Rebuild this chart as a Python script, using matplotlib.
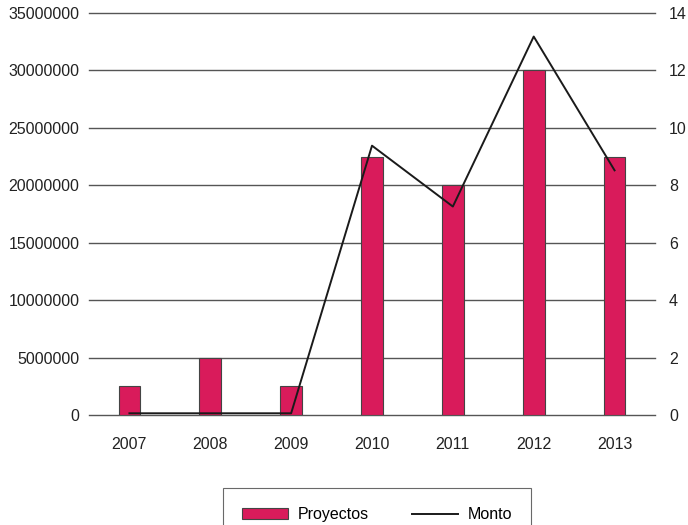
import numpy as np
import matplotlib.pyplot as plt
from matplotlib.lines import Line2D
from matplotlib.patches import Patch

plt.rcParams['font.family'] = ['Liberation Sans', 'DejaVu Sans']

# data
years = ['2007', '2008', '2009', '2010', '2011', '2012', '2013']
proyectos = [1, 2, 1, 9, 8, 12, 9]
monto = [150000, 150000, 150000, 23450000, 18150000, 32950000, 21300000]

bar_color = '#D91B5B'
grid_color = '#555555'

fig = plt.figure(figsize=(6.88, 5.25), dpi=100)
ax = fig.add_axes([89 / 688, 1 - 415 / 525, (655 - 89) / 688, (415 - 13) / 525])
ax2 = ax.twinx()

x = np.arange(len(years))

# left axis: Monto (line), right axis: Proyectos (bars)
ax.set_ylim(0, 35000000)
ax.set_yticks(np.arange(0, 35000001, 5000000))
ax.set_yticklabels([str(v) for v in range(0, 35000001, 5000000)])
ax2.set_ylim(0, 14)
ax2.set_yticks(range(0, 15, 2))
ax.set_xlim(-0.5, len(years) - 0.5)

for v in range(0, 35000001, 5000000):
    ax.axhline(v, color=grid_color, lw=1.0, zorder=0, clip_on=False)

ax2.bar(x, proyectos, width=0.27, color=bar_color, edgecolor='#444444',
        linewidth=0.8, zorder=2)
ax2.plot(x, np.array(monto) / 2500000, color='#1a1a1a', lw=1.4, zorder=3)

ax.set_xticks(x)
ax.set_xticklabels(years)

for a in (ax, ax2):
    for s in a.spines.values():
        s.set_visible(False)
    a.tick_params(length=0, labelsize=11.5, colors='#222222')
ax.tick_params(axis='y', pad=7)
ax2.tick_params(axis='y', pad=10)
ax.tick_params(axis='x', pad=16)
ax.set_zorder(0)
ax2.set_zorder(1)
ax.patch.set_visible(False)

handles = [Patch(facecolor=bar_color, edgecolor='#444444', linewidth=0.8),
           Line2D([0], [0], color='#1a1a1a', lw=1.4)]
leg = fig.legend(handles, ['Proyectos', 'Monto'], loc='upper center',
                 bbox_to_anchor=(377 / 688, 1 - 488 / 525), ncol=2,
                 frameon=True, fancybox=False, fontsize=11.5,
                 handlelength=2.9, handleheight=0.7, columnspacing=2.7,
                 borderpad=1.2, handletextpad=0.6, borderaxespad=0)
leg.get_frame().set_edgecolor('#444444')
leg.get_frame().set_linewidth(0.8)

fig.savefig('out.png', dpi=100)
